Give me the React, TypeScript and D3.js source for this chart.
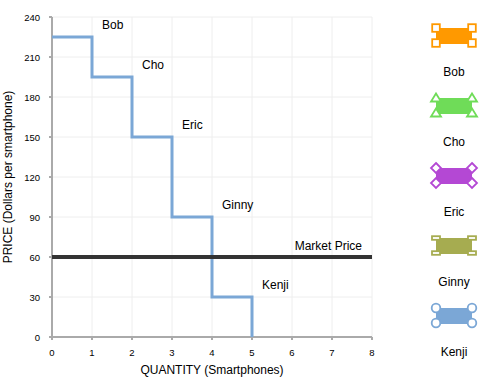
import React from "react";
import * as d3 from "d3";

// Individual buyers' reservation prices (step demand curve)
const buyers = ["Bob", "Cho", "Eric", "Ginny", "Kenji"];
const reservationPrices = [225, 195, 150, 90, 30];
const marketPrice = 60;

const legendColors = ["#ff9900", "#6fdc58", "#b448d4", "#a6ac50", "#7ba7d6"];
const legendMarkers = ["square", "triangle", "diamond", "dash", "circle"];

const xTicks = [0, 1, 2, 3, 4, 5, 6, 7, 8];
const yTicks = [0, 30, 60, 90, 120, 150, 180, 210, 240];

const W = 500;
const H = 390;
const margin = { left: 52, top: 17, right: 128, bottom: 53 };

const FONT = "Liberation Sans, Arial, Helvetica, sans-serif";

function Marker({ type, cx, cy, color }: { type: string; cx: number; cy: number; color: string }) {
  const common = { fill: "#fff", stroke: color, strokeWidth: 1.8 };
  if (type === "square") return <rect x={cx - 3.8} y={cy - 3.8} width={7.6} height={7.6} {...common} />;
  if (type === "triangle")
    return <path d={`M${cx},${cy - 4.5}L${cx + 5},${cy + 3.5}L${cx - 5},${cy + 3.5}Z`} {...common} />;
  if (type === "diamond")
    return <path d={`M${cx},${cy - 5}L${cx + 5},${cy}L${cx},${cy + 5}L${cx - 5},${cy}Z`} {...common} />;
  if (type === "dash") return <rect x={cx - 4} y={cy - 1.8} width={8} height={3.6} {...common} />;
  return <circle cx={cx} cy={cy} r={4.3} {...common} />;
}

export default function App() {
  const x = d3.scaleLinear().domain([0, 8]).range([margin.left, W - margin.right]);
  const y = d3.scaleLinear().domain([0, 240]).range([H - margin.bottom, margin.top]);

  // Build step points: each buyer adds one unit at their reservation price
  const pts: [number, number][] = [];
  reservationPrices.forEach((p, i) => {
    pts.push([i, p]);
    pts.push([i + 1, p]);
  });
  pts.push([reservationPrices.length, 0]);
  const line = d3
    .line<[number, number]>()
    .x((d) => x(d[0]))
    .y((d) => y(d[1]));

  const x0 = x(0);
  const x1 = x(8);
  const y0 = y(0);
  const y1 = y(240);

  return (
    <svg width={W} height={H} style={{ position: "absolute", left: 0, top: 0, background: "#fff" }} fontFamily={FONT}>
      {/* grid */}
      {xTicks.slice(1).map((t) => (
        <line key={"gx" + t} x1={x(t)} x2={x(t)} y1={y1} y2={y0} stroke="#eeeeee" strokeWidth={1} />
      ))}
      {yTicks.slice(1).map((t) => (
        <line key={"gy" + t} x1={x0} x2={x1} y1={y(t)} y2={y(t)} stroke="#eeeeee" strokeWidth={1} />
      ))}
      {/* axes */}
      <line x1={x0} x2={x1} y1={y0} y2={y0} stroke="#aaaaaa" strokeWidth={2} />
      <line x1={x0} x2={x0} y1={y1} y2={y0} stroke="#aaaaaa" strokeWidth={2} />
      {xTicks.map((t) => (
        <g key={"xt" + t}>
          <line x1={x(t)} x2={x(t)} y1={y0} y2={y0 + 3} stroke="#aaaaaa" strokeWidth={2} />
          <text x={x(t)} y={y0 + 19} fontSize={9.5} textAnchor="middle" fill="#000">
            {t}
          </text>
        </g>
      ))}
      {yTicks.map((t) => (
        <g key={"yt" + t}>
          <line x1={x0 - 3} x2={x0} y1={y(t)} y2={y(t)} stroke="#aaaaaa" strokeWidth={2} />
          <text x={x0 - 12} y={y(t) + 3.5} fontSize={9.5} textAnchor="end" fill="#000">
            {t}
          </text>
        </g>
      ))}
      <text x={(x0 + x1) / 2} y={374} fontSize={12} textAnchor="middle" fill="#000">
        QUANTITY (Smartphones)
      </text>
      <text
        transform={`translate(12,${(y0 + y1) / 2}) rotate(-90)`}
        fontSize={12}
        textAnchor="middle"
        fill="#000"
      >
        PRICE (Dollars per smartphone)
      </text>

      {/* demand steps */}
      <path d={line(pts) || ""} fill="none" stroke="#7ba7d6" strokeWidth={3} />
      {/* market price */}
      <line x1={x0} x2={x1} y1={y(marketPrice)} y2={y(marketPrice)} stroke="#333333" strokeWidth={4} />

      {/* annotations */}
      {buyers.map((b, i) => (
        <text key={"a" + b} x={x(i + 1) + 10} y={y(reservationPrices[i]) - 8} fontSize={12} fill="#000">
          {b}
        </text>
      ))}
      <text x={x(8) - 10} y={y(marketPrice) - 7} fontSize={12} textAnchor="end" fill="#000">
        Market Price
      </text>

      {/* legend */}
      {buyers.map((b, i) => {
        const cy = 36 + i * 70;
        const cx = 454;
        const c = legendColors[i];
        return (
          <g key={"lg" + b}>
            <rect x={cx - 18} y={cy - 8} width={36} height={16} fill={c} />
            {[
              [cx - 18, cy - 8],
              [cx + 18, cy - 8],
              [cx - 18, cy + 7],
              [cx + 18, cy + 7],
            ].map(([mx, my], k) => (
              <Marker key={k} type={legendMarkers[i]} cx={mx} cy={my} color={c} />
            ))}
            <text x={cx} y={cy + 40} fontSize={12} textAnchor="middle" fill="#000">
              {b}
            </text>
          </g>
        );
      })}
    </svg>
  );
}
